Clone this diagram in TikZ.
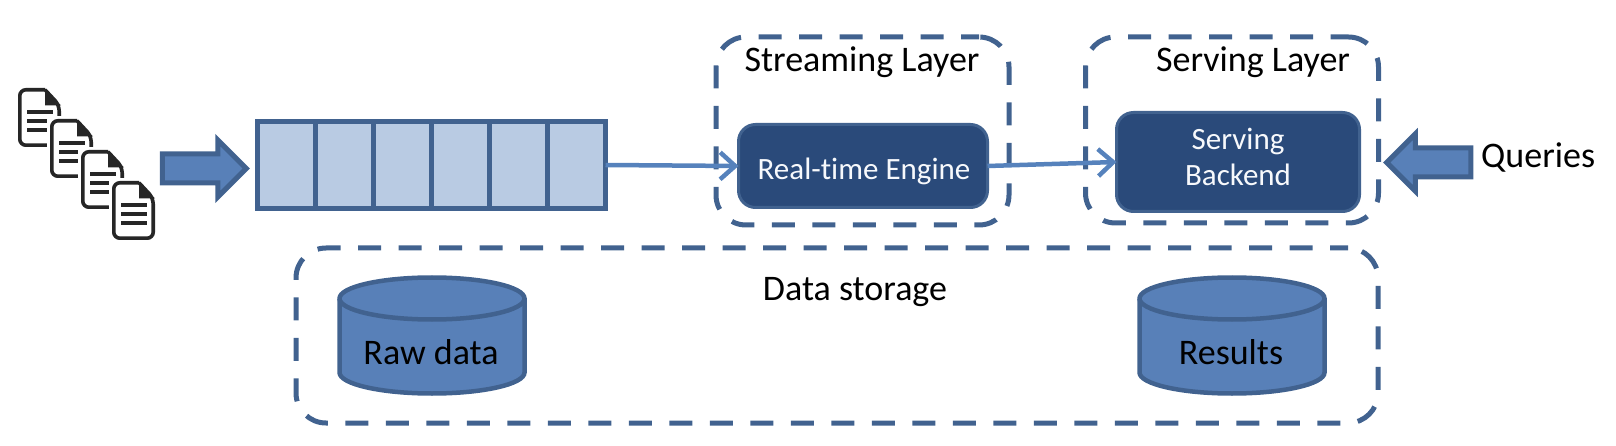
\documentclass[tikz,border=0pt]{standalone}
\usepackage{fontspec}
\setmainfont[Ligatures=NoCommon]{Carlito}
\usetikzlibrary{arrows.meta, positioning, shapes.arrows}
\definecolor{edgeblue}{HTML}{41628F}
\definecolor{midblue}{HTML}{5880B8}
\definecolor{lightblue}{HTML}{B9CBE3}
\definecolor{darkblue}{HTML}{2A4A7A}
\definecolor{linkblue}{HTML}{5682BC}
\definecolor{docgray}{HTML}{262626}

\begin{document}
\begin{tikzpicture}[
        x=1pt, y=-1pt,
        region/.style={draw=edgeblue, line width=5pt, rounded corners=30pt, dash pattern=on 23pt off 17.5pt, dash phase=5pt, minimum width=#1, outer sep=0pt, inner sep=0pt},
        cell/.style={draw=edgeblue, fill=lightblue, line width=4.5pt, minimum width=58pt, minimum height=87pt, outer sep=0pt, inner sep=0pt},
        engine/.style={draw=edgeblue, fill=darkblue, line width=3pt, rounded corners=17pt, outer sep=0pt, inner sep=0pt},
        bigarrow/.style={single arrow, draw=edgeblue, fill=midblue, line width=5pt, inner xsep=0pt, inner ysep=12pt, outer sep=0pt, minimum height=84pt, single arrow head extend=14pt, single arrow tip angle=90},
        label/.style={font=\fontsize{36}{36}\selectfont, inner sep=0pt, anchor=base},
        enginetext/.style={font=\fontsize{31}{36}\selectfont, text=white!88!lightblue, inner sep=0pt, anchor=base, align=center},
        link/.style={draw=linkblue, line width=4.5pt, -{Straight Barb[length=15pt, width=27pt, line width=4.5pt]}},
        docpage/.pic={
            \fill[white] (-3,-3) rectangle (46,62);
            \draw[docgray, line width=3.6pt, rounded corners=6pt] (27,1.8) -- (1.8,1.8) -- (1.8,57.2) -- (41.2,57.2) -- (41.2,17) -- (27,1.8);
            \fill[docgray] (27,0.5) -- (43,17.5) -- (27,17.5) -- cycle;
            \draw[docgray, line width=3.4pt] (9,24) -- (35,24) (9,33) -- (35,33) (9,42) -- (35,42);
        },
        drum/.pic={
            \draw[edgeblue, fill=midblue, line width=4.5pt] (-92.5,-37) -- (-92.5,37) arc[start angle=180, end angle=360, x radius=92.5pt, y radius=21pt] -- (92.5,-37) arc[start angle=0, end angle=180, x radius=92.5pt, y radius=21pt] -- cycle;
            \draw[edgeblue, line width=4.5pt] (-92.5,-37) arc[start angle=180, end angle=360, x radius=92.5pt, y radius=21pt];
        }
    ]
    \useasboundingbox (0,0) rectangle (1616,446);

    % Regions
    \node[region=293pt, minimum height=188pt] (streaming) at (862.5,131) {};
    \node[region=293pt, minimum height=186pt] (serving) at (1232,130) {};
    \node[region=1082pt, minimum height=175pt] (storage) at (837,335.5) {};

    % Documents
    \pic (doca) at (18,88) {docpage};
    \pic (docb) at (50,119) {docpage};
    \pic (docc) at (81,150) {docpage};
    \pic (docd) at (112,181) {docpage};

    % Queue
    \node[cell] (cell1) at (286.5,165) {};
    \foreach \i [remember=\i as \last (initially 1)] in {2,...,6} {
        \node[cell, right=0pt of cell\last] (cell\i) {};
    }

    % Engines
    \node[engine, minimum width=249pt, minimum height=83pt] (realtime) at (863,166) {};
    \node[engine, minimum width=243pt, minimum height=99pt] (backend) at (1238,162) {};
    \node[enginetext] (realtimetext) at (864,180) {Real-time Engine};
    \node[enginetext] (servingtext) at (1238,150) {Serving};
    \node[enginetext, below=36pt of servingtext.base, anchor=base] (backendtext) {Backend};

    % Stores
    \pic (raw) at (432,335.5) {drum};
    \pic (results) at (1232,335.5) {drum};
    \node[label] (rawtext) at (431,364) {Raw data};
    \node[label] (resultstext) at (1231,364) {Results};

    % Block arrows
    \node[bigarrow] (inarrow) at (197,168.5) {};
    \node[bigarrow, shape border rotate=180] (queryarrow) at (1436,162.5) {};

    % Labels
    \node[label] (streamtext) at (862,72) {Streaming Layer};
    \node[label] (servetext) at (1253,72) {Serving Layer};
    \node[label] (storetext) at (855,300) {Data storage};
    \node[label, anchor=base west] (queries) at (1481,168) {Queries};

    % Arrows
    \draw[link] (cell6.east) -- (realtime.west);
    \draw[link] (realtime.east) -- (backend.west);
\end{tikzpicture}
\end{document}
